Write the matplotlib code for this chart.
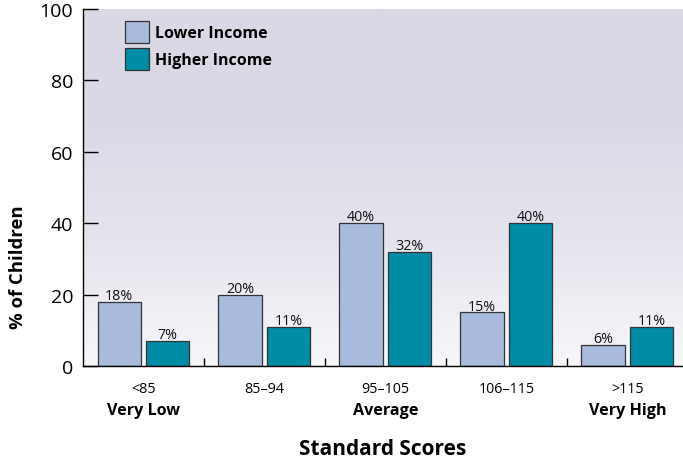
import matplotlib
matplotlib.use("Agg")
import matplotlib.pyplot as plt
import numpy as np
from matplotlib.colors import LinearSegmentedColormap
from matplotlib.transforms import blended_transform_factory

plt.rcParams["font.family"] = ["Open Sans", "DejaVu Sans"]

# data
ranges = ["<85", "85\u201394", "95\u2013105", "106\u2013115", ">115"]
descriptors = ["Very Low", "", "Average", "", "Very High"]
lower_income = [18, 20, 40, 15, 6]
higher_income = [7, 11, 32, 40, 11]
series_labels = ["Lower Income", "Higher Income"]

LOWER_C = "#a9bbdd"
HIGHER_C = "#008ca5"
EDGE_C = "#333333"

fig = plt.figure(figsize=(6.83, 4.60), dpi=100)
ax = fig.add_axes([83 / 683, 93 / 460, 600 / 683, 357 / 460])

# background gradient (lavender at top, almost white at the bottom)
grad_cmap = LinearSegmentedColormap.from_list(
    "bg", ["#f7f7fa", "#e6e5ee", "#dbd9e6", "#dad8e5"])
grad = np.linspace(0, 1, 256).reshape(-1, 1)
ax.imshow(grad, cmap=grad_cmap, aspect="auto", origin="lower",
          extent=[-0.5, 4.46, 0, 100], zorder=0)

x = np.arange(len(ranges))
width = 0.36
off = 0.2
b1 = ax.bar(x - off, lower_income, width, color=LOWER_C, edgecolor=EDGE_C,
            linewidth=0.9, label=series_labels[0], zorder=2)
b2 = ax.bar(x + off, higher_income, width, color=HIGHER_C, edgecolor=EDGE_C,
            linewidth=0.9, label=series_labels[1], zorder=2)

for bars, vals in ((b1, lower_income), (b2, higher_income)):
    for rect, v in zip(bars, vals):
        ax.text(rect.get_x() + rect.get_width() / 2, v - 0.3, f"{v}%",
                ha="center", va="bottom", fontsize=10.3, color="#111111", zorder=3)

ax.set_xlim(-0.5, 4.46)
ax.set_ylim(0, 100)

# axes styling
for s in ("top", "right"):
    ax.spines[s].set_visible(False)
for s in ("left", "bottom"):
    ax.spines[s].set_color("black")
    ax.spines[s].set_linewidth(1.0)

ax.set_yticks([0, 20, 40, 60, 80, 100])
ax.tick_params(axis="y", direction="in", length=10.8, width=1.0,
               labelsize=14, pad=7)

ax.set_xticks(x)
ax.set_xticklabels(ranges, fontsize=10.3)
ax.tick_params(axis="x", which="major", length=0, pad=11)
ax.set_xticks(x[:-1] + 0.5, minor=True)
ax.tick_params(axis="x", which="minor", direction="in", length=6, width=1.0)

trans = blended_transform_factory(ax.transData, ax.transAxes)
for xi, d in zip(x, descriptors):
    if d:
        ax.text(xi, -0.122, d, transform=trans, ha="center", va="center",
                fontsize=11.6, fontweight="bold")

ax.text(18 / 683, 193 / 460, "% of Children", transform=fig.transFigure,
        rotation=90, ha="center", va="center", fontsize=13.3, fontweight="bold")
ax.text(0.5, -0.23, "Standard Scores", transform=ax.transAxes, ha="center",
        va="center", fontsize=15, fontweight="bold")

leg = ax.legend(loc="upper left", bbox_to_anchor=(0.06, 0.985), frameon=False,
                fontsize=11.5, handlelength=1.5, handleheight=1.75,
                handletextpad=0.35, labelspacing=0.3, borderaxespad=0)
for t in leg.get_texts():
    t.set_fontweight("bold")

fig.savefig("out.png", dpi=100)
